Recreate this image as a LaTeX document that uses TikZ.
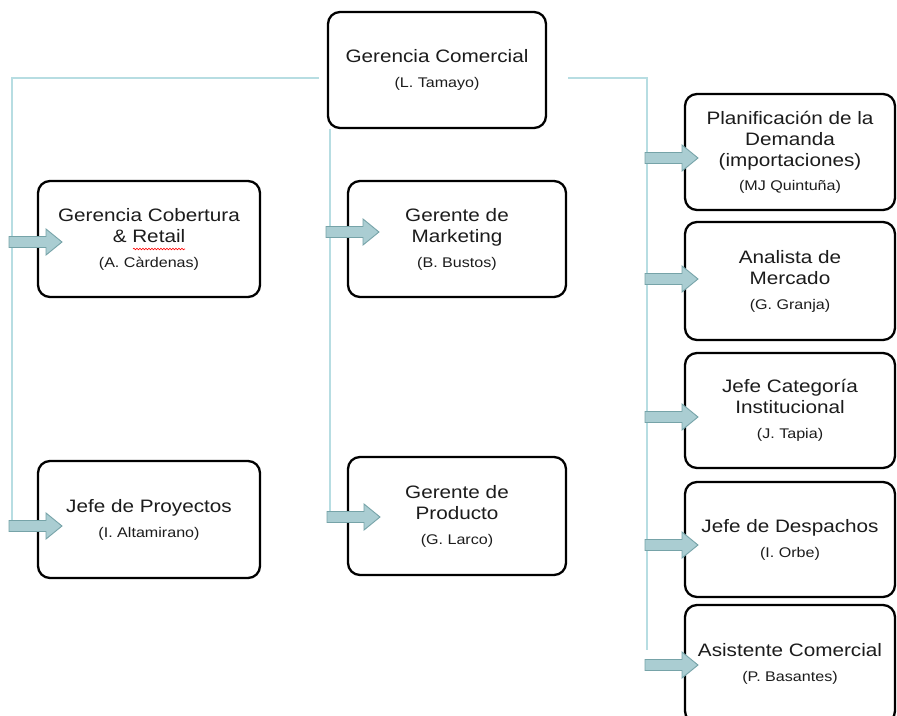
\documentclass[tikz,border=0pt]{standalone}
\usepackage{fontspec}
\usetikzlibrary{calc,decorations.pathmorphing}
\newfontfamily\boxfont[FakeStretch=1.15]{Liberation Sans}
\newcommand\who[1]{{\fontsize{14}{16}\selectfont #1}}
\definecolor{trunkcol}{RGB}{183,221,226}
\definecolor{arrowfill}{RGB}{170,205,210}
\definecolor{arrowline}{RGB}{118,163,168}
\definecolor{inkcol}{RGB}{28,28,28}
\tikzset{
  trunk/.style={draw=trunkcol, line width=1.4pt},
  unit/.style={draw=black, line width=2.3pt, rounded corners=12pt, fill=white,
    inner sep=0pt, align=center, text=inkcol,
    font=\boxfont\fontsize{18}{21}\selectfont},
  pics/blockarrow/.style={code={
    \draw[fill=arrowfill, draw=arrowline, line width=0.9pt, line join=miter]
      (0,-5.5) -- (37,-5.5) -- (37,-13) -- (53,0) -- (37,13) -- (37,5.5) -- (0,5.5) -- cycle;
  }}
}
\begin{document}
\begin{tikzpicture}[x=1pt,y=-1pt]
\useasboundingbox (0,0) rectangle (897,715);
\clip (0,0) rectangle (897,715);

% org units
\node[unit, minimum width=218pt, minimum height=116pt] (top) at (437,70)
  {Gerencia Comercial\\[4pt]\who{(L. Tamayo)}};

\node[unit, minimum width=222pt, minimum height=116pt] (cob) at (149,239)
  {Gerencia Cobertura\\\& Retail\\[4pt]\who{(A. C\`ardenas)}};
\node[unit, minimum width=222pt, minimum height=117pt] (proy) at (149,519.5)
  {Jefe de Proyectos\\[4pt]\who{(I. Altamirano)}};

\node[unit, minimum width=218pt, minimum height=116pt] (mkt) at (457,239)
  {Gerente de\\Marketing\\[4pt]\who{(B. Bustos)}};
\node[unit, minimum width=218pt, minimum height=118pt] (prod) at (457,516)
  {Gerente de\\Producto\\[4pt]\who{(G. Larco)}};

\node[unit, minimum width=210pt, minimum height=116pt] (dem) at (790,152)
  {Planificación de la\\Demanda\\(importaciones)\\[3pt]\who{(MJ Quintuña)}};
\node[unit, minimum width=210pt, minimum height=118pt] (mer) at (790,281)
  {Analista de\\Mercado\\[4pt]\who{(G. Granja)}};
\node[unit, minimum width=210pt, minimum height=115pt] (cat) at (790,410.5)
  {Jefe Categoría\\Institucional\\[4pt]\who{(J. Tapia)}};
\node[unit, minimum width=210pt, minimum height=115pt] (desp) at (790,539.5)
  {Jefe de Despachos\\[4pt]\who{(I. Orbe)}};
\node[unit, minimum width=210pt, minimum height=118pt] (asis) at (790,664)
  {Asistente Comercial\\[4pt]\who{(P. Basantes)}};

% spell-check mark under "Retail"
\draw[red, line width=0.6pt, decorate,
  decoration={snake, amplitude=0.8pt, segment length=3pt}]
  ($(cob.center)+(-16,10)$) -- ($(cob.center)+(36,10)$);

% trunk lines
\coordinate (lcorner) at (12,78);
\coordinate (lend) at (12,522);
\coordinate (mend) at (330,520);
\coordinate (rcorner) at (647,78);
\coordinate (rend) at (647,650);
\draw[trunk] ([xshift=-8pt]top.west |- lcorner) -- (lcorner) -- (lend);
\draw[trunk] (top.south -| mend) -- (mend);
\draw[trunk] ([xshift=21pt]top.east |- rcorner) -- (rcorner) -- (rend);

% arrows from trunks into units
\coordinate (a-cob) at (9,242);
\coordinate (a-proy) at (9,526);
\coordinate (a-mkt) at (326,232);
\coordinate (a-prod) at (327,517);
\coordinate (a-dem) at (645,158);
\coordinate (a-mer) at (645,279);
\coordinate (a-cat) at (645,417);
\coordinate (a-desp) at (645,545);
\coordinate (a-asis) at (645,665);
\foreach \a in {cob,proy,mkt,prod,dem,mer,cat,desp,asis}
  \pic at (a-\a) {blockarrow};
\end{tikzpicture}
\end{document}
